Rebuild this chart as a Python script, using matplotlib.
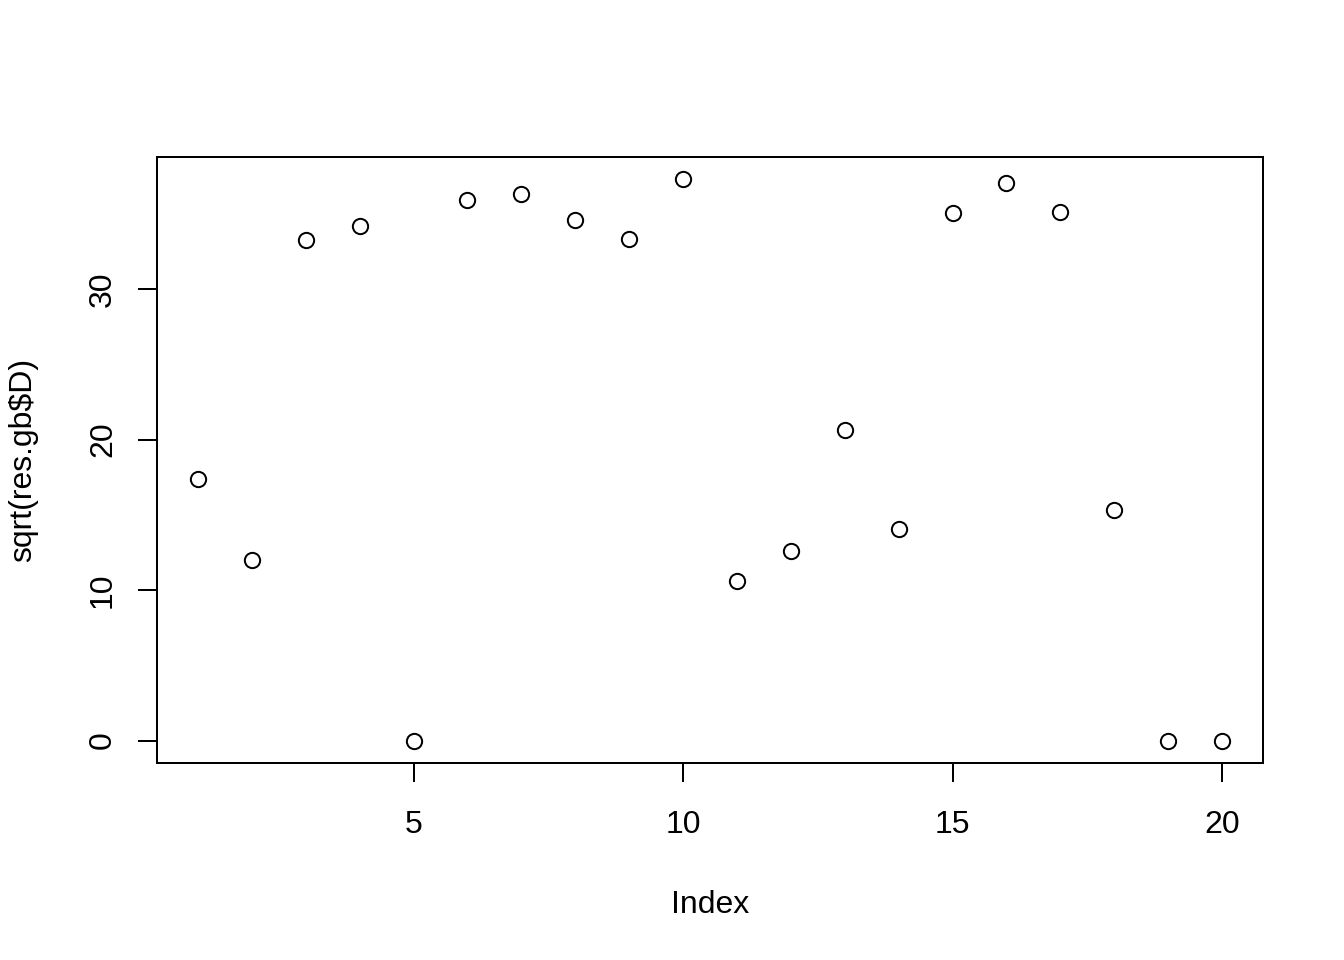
import matplotlib
matplotlib.use("Agg")
import matplotlib.pyplot as plt
import numpy as np

index = list(range(1, 21))
values = [17.39, 12.01, 33.24, 34.17, 0.0, 35.90, 36.30, 34.57, 33.31, 37.29,
          10.62, 12.61, 20.64, 14.07, 35.04, 37.03, 35.10, 15.33, 0.0, 0.0]
xticks = [5, 10, 15, 20]
yticks = [0, 10, 20, 30]

plt.rcParams['font.family'] = ['Liberation Sans', 'DejaVu Sans']
fig = plt.figure(figsize=(13.44, 9.6), dpi=100)
ax = fig.add_axes([157/1344, 1 - 763/960, (1263-157)/1344, (763-157)/960])

ax.plot(index, values, linestyle='none', marker='o', markersize=11,
        markerfacecolor='none', markeredgecolor='black', markeredgewidth=1.44)

xr = max(index) - min(index)
ax.set_xlim(min(index) - 0.04*xr, max(index) + 0.04*xr)
yr = max(values) - min(values)
ax.set_ylim(min(values) - 0.04*yr, max(values) + 0.04*yr)

ax.set_xticks(xticks)
ax.set_yticks(yticks)
ax.set_xticklabels([str(t) for t in xticks])
ax.set_yticklabels([str(t) for t in yticks], rotation=90, va='center')
for s in ax.spines.values():
    s.set_linewidth(1.44)
ax.tick_params(axis='both', length=14, width=1.44, labelsize=23, direction='out')
ax.tick_params(axis='x', pad=20)
ax.tick_params(axis='y', pad=14)
ax.set_xlabel('Index', fontsize=23, labelpad=36)
ax.set_ylabel('sqrt(res.gb$D)', fontsize=23, labelpad=36)

fig.savefig('out.png', dpi=100)
